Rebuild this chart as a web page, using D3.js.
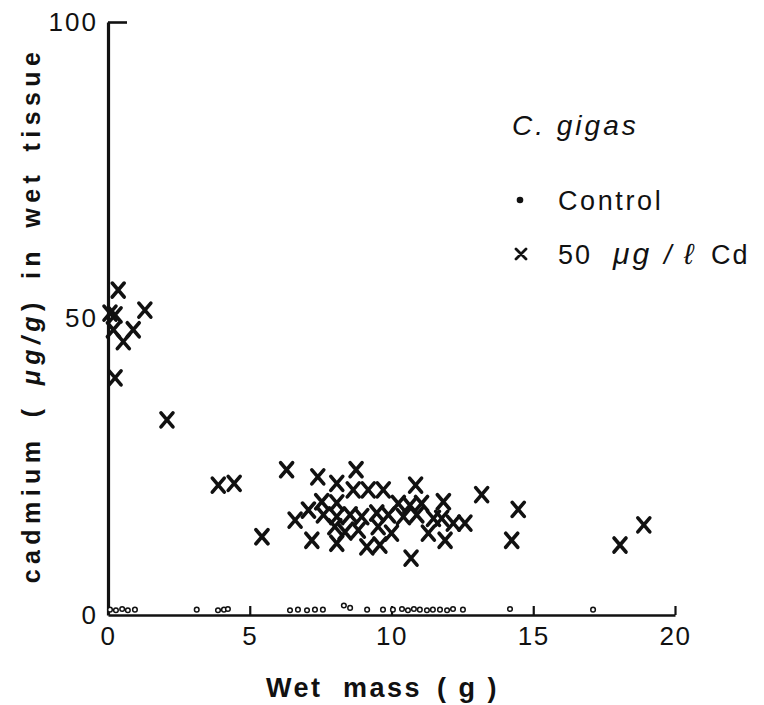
<!DOCTYPE html>
<html>
<head>
<meta charset="utf-8">
<script src="https://cdn.jsdelivr.net/npm/d3@7"></script>
<style>
  html, body { margin: 0; padding: 0; background: #fff; }
  svg { display: block; font-family: "Liberation Sans", Arial, sans-serif; }
</style>
</head>
<body>
<svg id="chart" width="764" height="705"></svg>
<script>
// Control oysters: wet mass (g) and cadmium (µg/g wet tissue)
const controlMass = [0.07, 0.28, 0.5, 0.7, 0.95, 3.13, 3.88, 4.09, 4.23, 6.42, 6.7, 7.02, 7.3, 7.58,
  8.32, 8.54, 9.14, 9.7, 10.05, 10.37, 10.58, 10.79, 11.0, 11.25, 11.46, 11.71, 11.96, 12.17, 12.52,
  14.18, 17.11];
const controlCd = [0.9, 0.8, 1.0, 0.8, 0.9, 0.9, 0.8, 0.9, 1.0, 0.8, 0.9, 0.8, 0.9, 0.9,
  1.6, 1.2, 0.9, 0.9, 0.9, 1.0, 0.8, 1.0, 0.9, 0.8, 0.9, 0.9, 0.8, 1.0, 0.9,
  1.0, 0.9];

// Oysters exposed to 50 µg/l Cd
const cdMass = [0.36, 0.25, 0.07, 1.3, 0.89, 0.54, 0.19, 0.25, 2.08,
  3.89, 4.45, 5.43, 6.3,
  7.4, 8.75, 8.07, 8.65, 9.18, 9.71, 10.85, 11.83, 13.18,
  7.54, 8.07, 7.07, 6.6, 7.6, 8.07, 8.54, 8.95, 9.48, 9.89,
  10.24, 10.65, 11.06, 10.42, 10.89, 11.48, 11.77, 12.18, 12.59,
  8.0, 8.36, 8.83, 9.53, 10.0, 11.3, 11.89, 7.19, 8.07, 9.13, 9.59, 10.69,
  14.47, 14.24, 18.06, 18.9];
const cdCd = [54.8, 50.6, 50.9, 51.4, 48.1, 46.1, 48.1, 40.0, 32.9,
  21.9, 22.2, 13.2, 24.5,
  23.3, 24.5, 22.2, 21.1, 21.1, 21.1, 21.9, 19.1, 20.3,
  19.1, 18.9, 17.7, 16.0, 16.9, 16.6, 16.9, 16.6, 17.2, 16.9,
  18.8, 18.5, 18.8, 16.6, 16.9, 16.3, 16.3, 15.5, 15.5,
  14.9, 14.0, 14.3, 14.9, 13.8, 13.8, 12.6, 12.6, 12.1, 11.5, 11.8, 9.6,
  17.8, 12.6, 11.8, 15.2];

const xTicks = [0, 5, 10, 15, 20];
const yTicks = [0, 50, 100];

const svg = d3.select("#chart");
const x = d3.scaleLinear().domain([0, 20]).range([108, 675]);
const y = d3.scaleLinear().domain([0, 100]).range([615, 22]);

const tickFont = 26;
const ink = "#111";

// x axis: ticks point up into the plot
const gx = svg.append("g")
  .attr("transform", `translate(0,${y(0)})`)
  .call(d3.axisBottom(x).tickValues(xTicks).tickSizeInner(-9).tickSizeOuter(0).tickPadding(12)
    .tickFormat(d3.format("d")));
gx.select(".domain").attr("stroke", ink).attr("stroke-width", 2.4);
gx.selectAll(".tick line").attr("stroke", ink).attr("stroke-width", 2.2)
  .attr("opacity", d => d === 0 ? 0 : 1);
gx.selectAll(".tick text").attr("font-size", tickFont).attr("fill", ink)
  .attr("letter-spacing", 1.5).attr("font-family", "'Liberation Sans', Arial, sans-serif");

// y axis: only the top tick turns right
const gy = svg.append("g")
  .attr("transform", `translate(${x(0)},0)`)
  .call(d3.axisLeft(y).tickValues(yTicks).tickSizeInner(-19).tickSizeOuter(0).tickPadding(10)
    .tickFormat(d3.format("d")));
gy.select(".domain").attr("stroke", ink).attr("stroke-width", 3.2);
gy.selectAll(".tick line").attr("stroke", ink).attr("stroke-width", 2.6)
  .attr("opacity", d => d === 100 ? 1 : 0);
gy.selectAll(".tick text").attr("font-size", tickFont).attr("fill", ink)
  .attr("letter-spacing", 2).attr("font-family", "'Liberation Sans', Arial, sans-serif");

// control points: small rings sitting on the baseline
svg.append("g").selectAll("circle")
  .data(controlMass.map((m, i) => [m, controlCd[i]]))
  .join("circle")
  .attr("cx", d => x(d[0]))
  .attr("cy", d => y(d[1]))
  .attr("r", 2.3)
  .attr("fill", "#fff")
  .attr("stroke", ink)
  .attr("stroke-width", 1.5);

// Cd-exposed points: bold crosses
const h = 6;
svg.append("g").selectAll("path")
  .data(cdMass.map((m, i) => [m, cdCd[i]]))
  .join("path")
  .attr("transform", d => `translate(${x(d[0])},${y(d[1])})`)
  .attr("d", `M${-h},${-h - 1}L${h},${h + 1}M${h},${-h - 1}L${-h},${h + 1}`)
  .attr("stroke", ink)
  .attr("stroke-width", 3.6)
  .attr("stroke-linecap", "round")
  .attr("fill", "none");

// x axis title
const xt = svg.append("text")
  .attr("y", 697)
  .attr("font-size", 27).attr("font-weight", "bold")
  .attr("letter-spacing", 2.5)
  .attr("fill", ink);
xt.append("tspan").attr("x", 266).text("Wet");
xt.append("tspan").attr("x", 343).text("mass");
xt.append("tspan").attr("x", 437).text("( g )");

// y axis title
const yt = svg.append("text")
  .attr("transform", "translate(40,315) rotate(-90)")
  .attr("text-anchor", "middle")
  .attr("font-size", 25).attr("font-weight", "bold")
  .attr("letter-spacing", 5.4).attr("word-spacing", 6)
  .attr("fill", ink);
yt.append("tspan").text("cadmium ( ");
yt.append("tspan").attr("font-style", "italic").text("μg/g");
yt.append("tspan").text(") in wet tissue");

// legend
svg.append("text")
  .attr("x", 512).attr("y", 135)
  .attr("font-size", 28).attr("font-style", "italic")
  .attr("letter-spacing", 3).attr("fill", ink)
  .text("C. gigas");

svg.append("circle").attr("cx", 520).attr("cy", 200).attr("r", 3.3).attr("fill", ink);
svg.append("text")
  .attr("x", 558).attr("y", 210)
  .attr("font-size", 27).attr("letter-spacing", 2.6).attr("fill", ink)
  .text("Control");

svg.append("path")
  .attr("transform", "translate(521,254)")
  .attr("d", "M-5,-5L5,5M5,-5L-5,5")
  .attr("stroke", ink).attr("stroke-width", 2.8).attr("stroke-linecap", "round");
const lt = svg.append("text")
  .attr("y", 264)
  .attr("font-size", 27).attr("letter-spacing", 2).attr("fill", ink);
lt.append("tspan").attr("x", 558).text("50");
lt.append("tspan").attr("x", 613).attr("font-style", "italic")
  .attr("font-size", 30).attr("letter-spacing", 3).text("μg");
lt.append("tspan").attr("x", 664).attr("font-style", "italic").text("/");
lt.append("tspan").attr("x", 684).attr("font-style", "italic").attr("font-size", 29).text("ℓ");
lt.append("tspan").attr("x", 711).text("Cd");
</script>
</body>
</html>
